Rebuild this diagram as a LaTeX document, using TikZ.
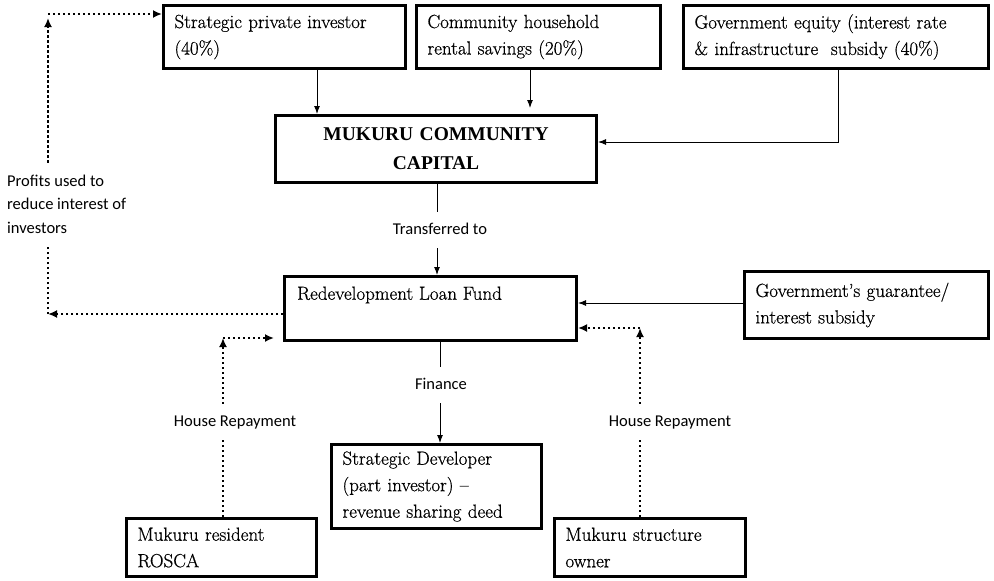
\documentclass[tikz,border=0pt]{standalone}
\usepackage{fontspec}
\newfontfamily\labfont{Carlito}
\newfontfamily\titlefont{Liberation Serif}
\newfontfamily\boxfam{Latin Modern Roman}[FakeBold=0.6, Ligatures=TeX]
\usetikzlibrary{arrows.meta}
\newcommand\boxfont{\boxfam\fontsize{19}{26.5}\selectfont}
\begin{document}
\begin{tikzpicture}[x=1pt,y=-1pt,
  box/.style={draw, line width=3pt, inner xsep=11pt, inner ysep=0pt, align=left, font=\boxfont},
  boxtext/.style={inner sep=0pt, font=\boxfont},
  arr/.style={line width=1pt, -{Latex[length=8pt,width=6pt]}},
  plain/.style={line width=1pt},
  dots/.style={line width=2.3pt, dash pattern=on 2.3pt off 2.7pt},
  darr/.style={dots, -{Latex[length=9pt,width=8pt]}},
  lbl/.style={font=\labfont\fontsize{16.5}{23.5}\selectfont, align=left, inner xsep=0pt, inner ysep=11pt, text height=11pt, text depth=3pt},
]
\useasboundingbox (0,0) rectangle (994,581);

% boxes
\node[box, minimum width=242pt, text width=220pt, minimum height=63pt] (spi) at (284.5,37) {Strategic private investor\\(40\%)};
\node[box, minimum width=244pt, text width=222pt, minimum height=63pt] (chr) at (538.5,37) {Community household\\rental savings (20\%)};
\node[box, minimum width=305pt, text width=283pt, minimum height=63pt] (ge) at (836,37) {Government equity (interest rate\\\& infrastructure~ subsidy (40\%)};
\node[box, minimum width=321pt, text width=299pt, minimum height=67pt, align=center, font=\titlefont\bfseries\fontsize{19.5}{29}\selectfont] (mcc) at (436,149) {MUKURU COMMUNITY\\CAPITAL};
\node[box, minimum width=292pt, minimum height=64pt] (rlf) at (430.5,308.5) {};
\node[boxtext, anchor=west] (rlft) at (297,295) {Redevelopment Loan Fund};
\node[box, minimum width=244pt, text width=222pt, minimum height=67pt] (gg) at (866.5,305) {Government’s guarantee/\\interest subsidy};
\node[box, minimum width=210pt, text width=188pt, minimum height=84pt] (sd) at (436.5,486.5) {Strategic Developer\\(part investor) –\\revenue sharing deed};
\node[box, minimum width=190pt, text width=168pt, minimum height=58pt] (mrr) at (221.5,547.5) {Mukuru resident\\ROSCA};
\node[box, minimum width=191pt, text width=169pt, minimum height=58pt] (mso) at (650,547.5) {Mukuru structure\\owner};

% labels
\node[lbl] (tr) at (440,230) {Transferred to};
\node[lbl] (fin) at (441,385) {Finance};
\node[lbl] (hr1) at (235,422) {House Repayment};
\node[lbl] (hr2) at (670,422) {House Repayment};
\node[lbl, anchor=west, text height=, text depth=, inner ysep=12pt] (pf) at (7,204) {Profits used to\\reduce interest of\\investors};

% coordinates
\coordinate (x1) at (317,0);
\coordinate (x2) at (530,0);
\coordinate (g1) at (838,142);
\coordinate (tx) at (437,0);
\coordinate (fx) at (440,0);
\coordinate (gy) at (0,303);
\coordinate (pl) at (48,314);
\coordinate (pv) at (48,18);
\coordinate (pt) at (48,14);
\coordinate (rr) at (640,328);
\coordinate (lr) at (223,338);

% solid connectors
\draw[arr] (spi.south -| x1) -- (mcc.north -| x1);
\draw[arr, shorten >=6pt] (chr.south -| x2) -- (mcc.north -| x2);
\draw[arr] (ge.south -| g1) -- (g1) -- (g1 -| mcc.east);
\draw[plain] (mcc.south -| tx) -- (tr.north -| tx);
\draw[arr] (tr.south -| tx) -- (rlf.north -| tx);
\draw[arr] (gg.west |- gy) -- (rlf.east |- gy);
\draw[plain] (rlf.south -| fx) -- (fin.north -| fx);
\draw[arr] (fin.south -| fx) -- (sd.north -| fx);

% dotted connectors
\draw[darr] (pl -| rlf.west) -- (pl);
\draw[dots] (pl) -- (pf.south -| pl);
\draw[darr] (pf.north -| pl) -- (pv);
\draw[darr] (pt) -- (pt -| spi.west);

\draw[dots] (mso.north -| rr) -- (hr2.south -| rr);
\draw[darr] (hr2.north -| rr) -- (rr);
\draw[darr] (rr) -- (rr -| rlf.east);

\draw[dots] (mrr.north -| lr) -- (hr1.south -| lr);
\draw[darr] (hr1.north -| lr) -- (lr);
\draw[darr, shorten >=9pt] (lr) -- (lr -| rlf.west);
\end{tikzpicture}
\end{document}
